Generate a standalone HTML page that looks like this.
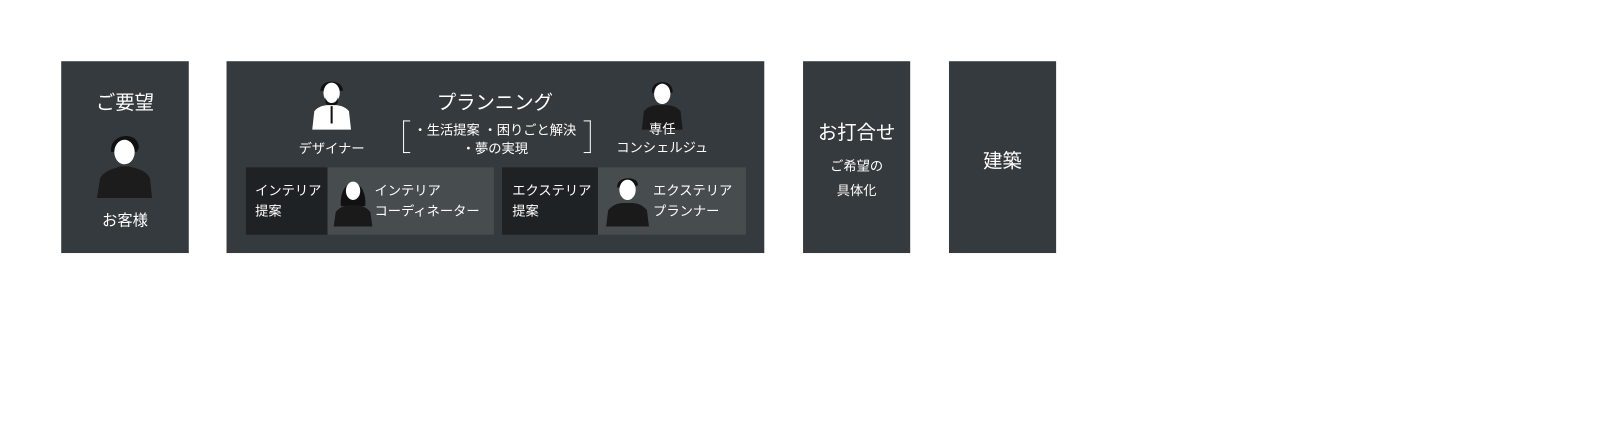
<!DOCTYPE html>
<html><head><meta charset="utf-8"><style>
body{margin:0;width:1600px;height:437px;background:#fff;position:relative;font-family:"Liberation Sans","Noto Sans CJK JP",sans-serif;color:#fff;overflow:hidden}
#w{position:absolute;left:0;top:0;width:1568px;height:428px;transform:scale(1.0204);transform-origin:0 0}
.b{position:absolute;background:#343a3d}
.t{position:absolute;white-space:nowrap;text-align:center}
.c{position:absolute}
svg{position:absolute}
</style></head><body><div id="w">
<div class="b" style="left:60px;top:60px;width:125px;height:188px"></div>
<div class="t" style="left:60px;width:125px;top:86px;font-size:19px">ご要望</div>
<svg style="left:94px;top:127px" width="56" height="68" viewBox="0 0 56 68"><path d="M15 22 C12 4 42 0 42 18 L40 22 Z" fill="#111"/><ellipse cx="28" cy="22" rx="10" ry="12" fill="#fff"/><path d="M1 67 L4 48 C8 40 18 38 24 36 L32 36 C40 38 50 40 53 48 L55 67 Z" fill="#1c1c1c"/></svg>
<div class="t" style="left:60px;width:125px;top:205px;font-size:15px">お客様</div>

<div class="b" style="left:222px;top:60px;width:527px;height:188px"></div>
<svg style="left:304px;top:77px" width="42" height="52" viewBox="0 0 42 52"><path d="M10 12 C10 0 32 0 32 12 Z" fill="#111"/><ellipse cx="21" cy="14" rx="8" ry="10" fill="#fff"/><path d="M15 18 C16 26 26 26 27 18 L27 24 C24 28 18 28 15 24Z" fill="#111"/><path d="M2 50 L4 32 C8 27 14 26 18 26 L24 26 C28 26 34 27 38 32 L40 50 Z" fill="#fff"/><path d="M20 27 L22 27 L22 44 L20 44Z" fill="#111"/></svg>
<div class="t" style="left:285px;width:80px;top:135px;font-size:13px">デザイナー</div>
<div class="t" style="left:385px;width:200px;top:86px;font-size:19px">プランニング</div>
<div class="c" style="left:395px;top:118px;width:6px;height:30px;border:1px solid #fff;border-right:none"></div>
<div class="c" style="left:572px;top:118px;width:6px;height:30px;border:1px solid #fff;border-left:none"></div>
<div class="t" style="left:400px;width:170px;top:117px;font-size:13px">・生活提案 ・困りごと解決</div>
<div class="t" style="left:400px;width:170px;top:135px;font-size:13px">・夢の実現</div>
<svg style="left:627px;top:77px" width="44" height="52" viewBox="0 0 44 52"><path d="M12 14 C10 0 34 0 32 14 Z" fill="#111"/><ellipse cx="22" cy="15" rx="8" ry="10" fill="#fff"/><path d="M2 50 L4 32 C8 27 14 26 18 26 L26 26 C30 26 36 27 40 32 L42 50 Z" fill="#1a1a1a"/></svg>
<div class="t" style="left:600px;width:98px;top:118px;font-size:13px;line-height:18px">専任<br>コンシェルジュ</div>

<div class="c" style="left:241px;top:164px;width:80px;height:66px;background:#1f2224"></div>
<div class="c" style="left:321px;top:164px;width:163px;height:66px;background:#474d4f"></div>
<div class="t" style="left:250px;top:177px;font-size:13px;text-align:left;line-height:20px">インテリア<br>提案</div>
<svg style="left:326px;top:172px" width="40" height="50" viewBox="0 0 40 50"><path d="M8 30 C6 0 34 0 32 30 Z" fill="#111"/><ellipse cx="20" cy="15" rx="7" ry="9" fill="#fff"/><path d="M1 50 L3 36 C7 30 14 29 20 29 C26 29 33 30 37 36 L39 50Z" fill="#1a1a1a"/></svg>
<div class="t" style="left:367px;top:177px;font-size:13px;text-align:left;line-height:20px">インテリア<br>コーディネーター</div>

<div class="c" style="left:492px;top:164px;width:94px;height:66px;background:#1f2224"></div>
<div class="c" style="left:586px;top:164px;width:145px;height:66px;background:#474d4f"></div>
<div class="t" style="left:502px;top:177px;font-size:13px;text-align:left;line-height:20px">エクステリア<br>提案</div>
<svg style="left:593px;top:172px" width="44" height="50" viewBox="0 0 44 50"><path d="M12 12 C10 0 34 0 32 10 Z" fill="#111"/><ellipse cx="22" cy="14" rx="8" ry="10" fill="#fff"/><path d="M1 50 L3 34 C8 28 14 27 18 27 L26 27 C30 27 36 28 41 34 L43 50Z" fill="#1a1a1a"/></svg>
<div class="t" style="left:640px;top:177px;font-size:13px;text-align:left;line-height:20px">エクステリア<br>プランナー</div>

<div class="b" style="left:787px;top:60px;width:105px;height:188px"></div>
<div class="t" style="left:787px;width:105px;top:115px;font-size:19px">お打合せ</div>
<div class="t" style="left:787px;width:105px;top:151px;font-size:13px;line-height:24px">ご希望の<br>具体化</div>

<div class="b" style="left:930px;top:60px;width:105px;height:188px"></div>
<div class="t" style="left:930px;width:105px;top:143px;font-size:19px">建築</div>
</div></body></html>
